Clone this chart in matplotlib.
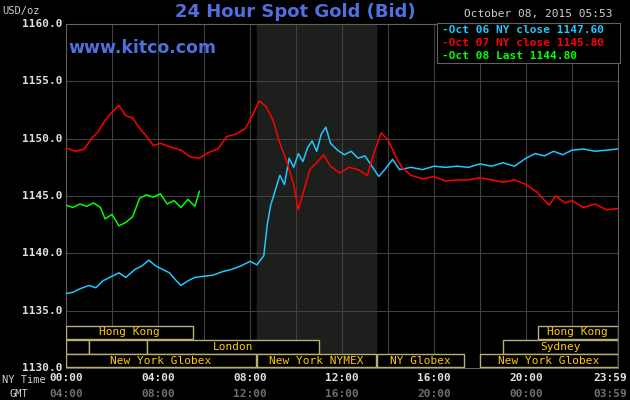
import matplotlib
matplotlib.use("Agg")
import matplotlib.pyplot as plt
from matplotlib.patches import Rectangle

# hours (NY time) and prices
blue_t = [0,0.3,0.6,1,1.3,1.6,2,2.3,2.6,3,3.3,3.6,3.9,4.2,4.5,4.8,5,5.3,5.6,6,6.4,6.8,7.2,7.6,8,8.3,8.6,8.75,8.9,9.1,9.3,9.5,9.7,9.9,10.1,10.3,10.5,10.7,10.9,11.1,11.3,11.5,11.8,12.1,12.4,12.7,13,13.3,13.6,13.9,14.2,14.5,15,15.5,16,16.5,17,17.5,18,18.5,19,19.5,20,20.4,20.8,21.2,21.6,22,22.5,23,23.5,23.98]
blue_v = [1136.5,1136.6,1136.9,1137.2,1137.0,1137.6,1138.0,1138.3,1137.9,1138.6,1138.9,1139.4,1138.9,1138.6,1138.3,1137.6,1137.2,1137.6,1137.9,1138.0,1138.1,1138.4,1138.6,1138.9,1139.3,1139.0,1139.8,1142.5,1144.2,1145.5,1146.8,1146.0,1148.3,1147.5,1148.7,1148.0,1149.2,1149.8,1148.9,1150.4,1151.0,1149.6,1149.0,1148.6,1148.9,1148.3,1148.5,1147.6,1146.7,1147.4,1148.2,1147.3,1147.5,1147.3,1147.6,1147.5,1147.6,1147.5,1147.8,1147.6,1147.9,1147.6,1148.3,1148.7,1148.5,1148.9,1148.6,1149.0,1149.1,1148.9,1149.0,1149.1]
red_t = [0,0.4,0.8,1.1,1.4,1.7,2,2.3,2.6,2.9,3.2,3.5,3.8,4.1,4.5,5,5.4,5.8,6.2,6.6,7,7.4,7.8,8.1,8.4,8.7,9,9.3,9.6,9.9,10.1,10.3,10.6,10.9,11.2,11.5,11.9,12.3,12.7,13.1,13.4,13.7,14,14.3,14.6,15,15.5,16,16.5,17,17.5,18,18.5,19,19.5,20,20.5,21,21.3,21.7,22,22.5,23,23.5,23.98]
red_v = [1149.2,1148.9,1149.1,1150.0,1150.6,1151.6,1152.3,1152.9,1152.0,1151.8,1150.9,1150.2,1149.4,1149.6,1149.3,1149.0,1148.4,1148.3,1148.8,1149.1,1150.2,1150.4,1150.9,1152.0,1153.3,1152.8,1151.6,1149.6,1148.0,1146.0,1143.8,1145.2,1147.3,1147.9,1148.6,1147.6,1147.0,1147.5,1147.3,1146.8,1148.8,1150.5,1149.9,1148.6,1147.5,1146.8,1146.5,1146.7,1146.3,1146.4,1146.4,1146.6,1146.4,1146.2,1146.4,1146.0,1145.3,1144.2,1145.0,1144.4,1144.6,1144.0,1144.3,1143.8,1143.9]
green_t = [0,0.3,0.6,0.9,1.2,1.5,1.7,2.0,2.3,2.6,2.9,3.2,3.5,3.8,4.1,4.4,4.7,5.0,5.3,5.6,5.8]
green_v = [1144.2,1144.0,1144.3,1144.1,1144.4,1144.0,1143.0,1143.4,1142.4,1142.7,1143.2,1144.8,1145.1,1144.9,1145.2,1144.3,1144.6,1144.0,1144.7,1144.1,1145.4]

x_ticks = [0,4,8,12,16,20,23.98]
ny_labels = ["00:00","04:00","08:00","12:00","16:00","20:00","23:59"]
gmt_labels = ["04:00","08:00","12:00","16:00","20:00","00:00","03:59"]
y_ticks = [1130,1135,1140,1145,1150,1155,1160]

# sessions: (row, start, end, label)
sessions = [(0,0,5.5,"Hong Kong"),(0,20.5,24,"Hong Kong"),
            (1,0,1.0,""),(1,1.0,3.5,""),(1,3.5,11.0,"London"),(1,19.0,24,"Sydney"),
            (2,0,8.25,"New York Globex"),(2,8.3,13.5,"New York NYMEX"),(2,13.5,17.3,"NY Globex"),(2,18.0,24,"New York Globex")]
rows = [(1132.5,1133.7),(1131.25,1132.45),(1130.05,1131.2)]

L, W = 66, 552
fig = plt.figure(figsize=(6.3,4), dpi=100, facecolor="black")
ax = fig.add_axes([L/630, 32/400, W/630, 344/400], facecolor="black")
ax.set_xlim(0,24); ax.set_ylim(1130,1160)
ax.axvspan(8.3,13.5,color="#1c1f1c",zorder=0)
for h in range(2,24,2):
    ax.axvline(h,color="#404040",lw=0.8,zorder=1)
for y in y_ticks[1:-1]:
    ax.axhline(y,color="#404040",lw=0.8,zorder=1)
for s in ax.spines.values(): s.set_color("#606060")
ax.set_xticks([]); ax.set_yticks([])

ax.plot(blue_t,blue_v,color="#20c8ff",lw=1.1,zorder=3)
ax.plot(red_t,red_v,color="#ff0000",lw=1.1,zorder=3)
ax.plot(green_t,green_v,color="#00ff00",lw=1.1,zorder=3)

for r,s,e,lab in sessions:
    y0,y1 = rows[r]
    ax.add_patch(Rectangle((s,y0),e-s,y1-y0,facecolor="black",edgecolor="#b8b070",lw=1,zorder=4))
    if lab:
        ax.text((s+e)/2,(y0+y1)/2,lab,color="#ffcc00",fontsize=8,family="DejaVu Sans Mono",ha="center",va="center",zorder=5)

mono = "DejaVu Sans Mono"
for y in y_ticks:
    ax.text(-0.15,y,f"{y:.1f}",color="#e0e0e0",fontsize=8,family=mono,fontweight="bold",ha="right",va="center",transform=ax.transData,clip_on=False)
for i,(x,a,b) in enumerate(zip(x_ticks,ny_labels,gmt_labels)):
    last = i == len(x_ticks)-1
    px = 627 if last else L+x/24*W
    ha = "right" if last else "center"
    fig.text(px/630,1-378/400,a,color="#e0e0e0",fontsize=8,family=mono,fontweight="bold",ha=ha,va="center")
    fig.text(px/630,1-394/400,b,color="#707070",fontsize=8,family=mono,fontweight="bold",ha=ha,va="center")
fig.text(2/630,1-380/400,"NY Time",color="#d0d0d0",fontsize=7.5,family=mono,va="center")
fig.text(10/630,1-394/400,"GMT",color="#d0d0d0",fontsize=7.5,family=mono,va="center")
fig.text(2/630,1-11/400,"USD/oz",color="#d0d0d0",fontsize=7.5,family=mono,va="center")
fig.text(295/630,1-12/400,"24 Hour Spot Gold (Bid)",color="#5070e0",fontsize=13,fontweight="bold",ha="center",va="center")
fig.text(68/630,1-48/400,"www.kitco.com",color="#5070e0",fontsize=12.5,fontweight="bold",va="center")
fig.text(612/630,1-14/400,"October 08, 2015 05:53",color="#d0d0d0",fontsize=8,family=mono,ha="right",va="center")
legend = [("Oct 06 NY close 1147.60","#20c8ff"),("Oct 07 NY close 1145.80","#ff0000"),("Oct 08 Last 1144.80","#00ff00")]
lax = fig.add_axes([437/630,1-63/400,183/630,40/400],facecolor="black")
lax.set_xticks([]); lax.set_yticks([])
for s in lax.spines.values(): s.set_color("#606060")
for i,(t,c) in enumerate(legend):
    fig.text(442/630,1-(30+13*i)/400,"-"+t,color=c,fontsize=8,family=mono,fontweight="bold",va="center")
fig.savefig("out.png",dpi=100,facecolor="black")
